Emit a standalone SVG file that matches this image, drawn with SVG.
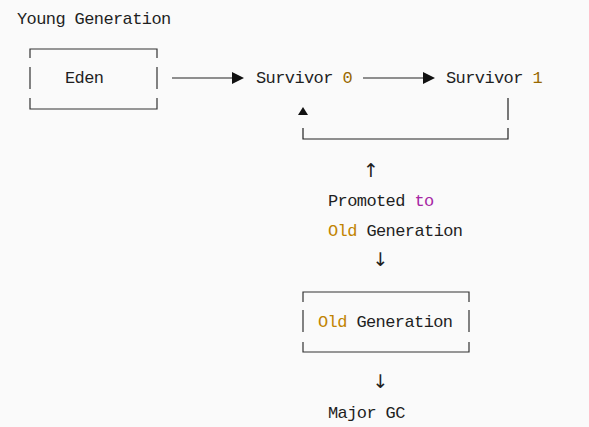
<svg xmlns="http://www.w3.org/2000/svg" width="589" height="427" viewBox="0 0 589 427">
  <style>
    text { font-family: "Liberation Mono", "DejaVu Sans Mono", monospace; font-size: 17px; letter-spacing: -0.6px; fill: #1f1f1f; }
    .num { fill: #986801; }
    .kw { fill: #a626a4; }
    .cls { fill: #c18401; }
    .box { fill: none; stroke: #333; stroke-width: 1.2; }
    .conn { fill: none; stroke: #222; stroke-width: 1.2; }
    .arr { font-family: "DejaVu Sans", "Liberation Sans", sans-serif; font-size: 19px; letter-spacing: 0; }
  </style>
  <defs>
    <marker id="head" markerWidth="12" markerHeight="12" refX="0" refY="6" orient="auto" markerUnits="userSpaceOnUse">
      <polygon points="0,0 12,6 0,12" fill="#111"/>
    </marker>
  </defs>
  <rect width="589" height="427" fill="#fafafa"/>

  <text x="17" y="24">Young Generation</text>

  <g id="eden">
    <path class="box" d="M30,58 V49 H157 V58 M30,67 V89 M157,67 V89 M30,98 V109 H157 V98"/>
    <text x="65" y="83">Eden</text>
  </g>

  <g id="survivor0">
    <text x="256" y="83">Survivor <tspan class="num">0</tspan></text>
  </g>

  <g id="survivor1">
    <text x="446" y="83">Survivor <tspan class="num">1</tspan></text>
  </g>

  <g id="promoted">
    <text x="328" y="206">Promoted <tspan class="kw">to</tspan></text>
    <text x="328" y="236"><tspan class="cls">Old</tspan> Generation</text>
  </g>

  <g id="oldgen">
    <path class="box" d="M303,302 V292 H469 V302 M303,310 V332 M469,310 V332 M303,342 V352 H469 V342"/>
    <text x="318" y="327"><tspan class="cls">Old</tspan> Generation</text>
  </g>

  <g id="majorgc">
    <text x="328" y="418">Major GC</text>
  </g>

  <g id="connectors">
    <line class="conn" x1="172" y1="78" x2="232" y2="78" marker-end="url(#head)"/>
    <line class="conn" x1="363" y1="78" x2="423" y2="78" marker-end="url(#head)"/>
    <path class="conn" d="M508,98 V120 M508,128 V139 H303 V128"/>
    <polygon points="298,115 303,107 308,115" fill="#111"/>
    <text class="arr" x="371" y="177" text-anchor="middle">↑</text>
    <text class="arr" x="380.5" y="266" text-anchor="middle">↓</text>
    <text class="arr" x="380.5" y="388" text-anchor="middle">↓</text>
  </g>
</svg>
